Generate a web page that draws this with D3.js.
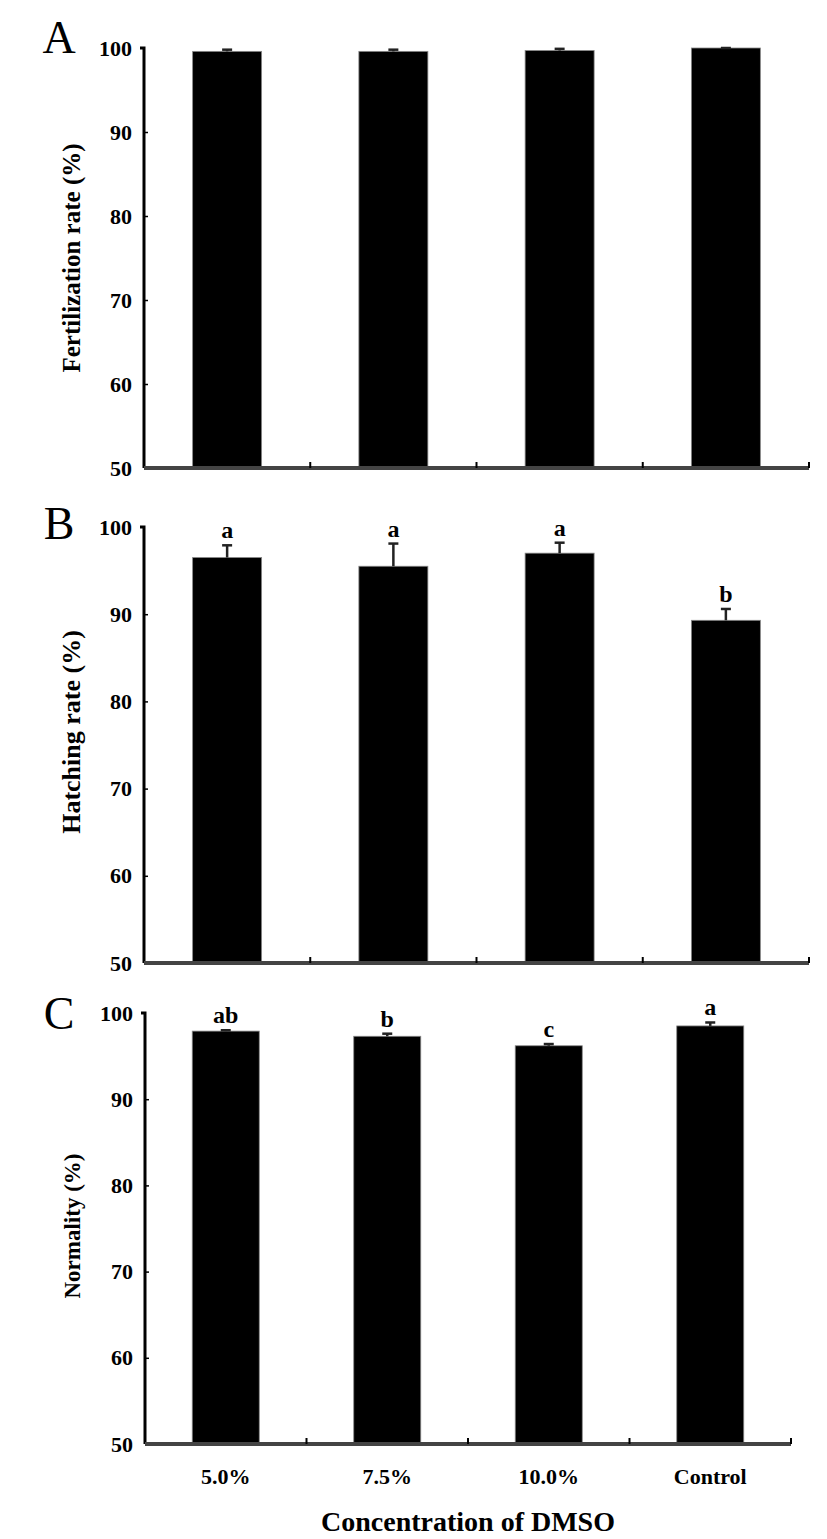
<!DOCTYPE html>
<html>
<head>
<meta charset="utf-8">
<script src="https://cdn.jsdelivr.net/npm/d3@7"></script>
<style>
  body { margin: 0; background: #fff; }
  svg text { font-family: "Liberation Serif", "DejaVu Serif", serif !important; }
</style>
</head>
<body>
<div id="wrapper"></div>
<script>
// categories and values
const categories = ["5.0%", "7.5%", "10.0%", "Control"];
const yTicks = [50, 60, 70, 80, 90, 100];

const fertilization = [99.6, 99.6, 99.7, 100];
const fertilizationErr = [0.2, 0.2, 0.2, 0];

const hatching = [96.5, 95.5, 97.0, 89.3];
const hatchingErr = [1.4, 2.6, 1.2, 1.3];
const hatchingLetters = ["a", "a", "a", "b"];

const normality = [97.9, 97.3, 96.2, 98.5];
const normalityErr = [0.1, 0.3, 0.2, 0.4];
const normalityLetters = ["ab", "b", "c", "a"];

const panels = [
  { tag: "A", title: "Fertilization rate (%)", values: fertilization, errs: fertilizationErr, letters: null,
    left: 144, right: 809, top: 48, bottom: 468, tagY: 53, titleY: 258, titleSize: 25 },
  { tag: "B", title: "Hatching rate (%)", values: hatching, errs: hatchingErr, letters: hatchingLetters,
    left: 144, right: 809, top: 527, bottom: 963, tagY: 539, titleY: 732, titleSize: 26 },
  { tag: "C", title: "Normality (%)", values: normality, errs: normalityErr, letters: normalityLetters,
    left: 145, right: 791, top: 1013, bottom: 1444, tagY: 1029, titleY: 1226, titleSize: 23 },
];

const width = 827;
const height = 1539;
const serif = "Liberation Serif";

const svg = d3.select("#wrapper").append("svg")
  .attr("width", width)
  .attr("height", height);

panels.forEach((p, pi) => {
  const g = svg.append("g");

  const xScale = d3.scaleBand()
    .domain(categories)
    .range([p.left, p.right])
    .padding(0);

  const yScale = d3.scaleLinear()
    .domain([50, 100])
    .range([p.bottom, p.top]);

  const barW = xScale.bandwidth() * 0.415;
  const mid = c => xScale(c) + xScale.bandwidth() / 2;

  // bars
  g.selectAll("rect.bar")
    .data(p.values)
    .join("rect")
    .attr("class", "bar")
    .attr("x", (d, i) => mid(categories[i]) - barW / 2)
    .attr("width", barW)
    .attr("y", d => yScale(d))
    .attr("height", d => yScale(50) - yScale(d))
    .attr("fill", "#000")
    .attr("stroke", "#888")
    .attr("stroke-width", 0.8);

  // error bars (upper half only)
  const eb = g.selectAll("g.err")
    .data(p.values)
    .join("g")
    .attr("class", "err")
    .attr("transform", (d, i) => `translate(${mid(categories[i])},0)`);
  eb.append("line")
    .attr("y1", d => yScale(d))
    .attr("y2", (d, i) => yScale(d + p.errs[i]))
    .attr("stroke", "#222")
    .attr("stroke-width", 2.5);
  eb.append("line")
    .attr("x1", -5).attr("x2", 5)
    .attr("y1", (d, i) => yScale(d + p.errs[i]))
    .attr("y2", (d, i) => yScale(d + p.errs[i]))
    .attr("stroke", "#222")
    .attr("stroke-width", 2.5);

  // significance letters
  if (p.letters) {
    g.selectAll("text.sig")
      .data(p.values)
      .join("text")
      .attr("class", "sig")
      .attr("x", (d, i) => mid(categories[i]))
      .attr("y", (d, i) => yScale(d + p.errs[i]) - 7)
      .attr("text-anchor", "middle")
      .attr("font-family", serif)
      .attr("font-size", 24)
      .attr("font-weight", "bold")
      .text((d, i) => p.letters[i]);
  }

  // y axis
  const yAxis = g.append("g")
    .attr("transform", `translate(${p.left},0)`)
    .call(d3.axisLeft(yScale).tickValues(yTicks).tickSize(-4).tickPadding(12));
  yAxis.attr("font-family", serif);
  yAxis.select(".domain").attr("stroke-width", 3).attr("d", `M-4,${p.top}H0V${p.bottom}`);
  yAxis.selectAll(".tick line").attr("stroke-width", 1.5);
  yAxis.selectAll(".tick text")
    .attr("font-size", 22)
    .attr("font-weight", "bold")
    .attr("fill", "#000");
  yAxis.selectAll(".tick").filter(d => d === 100).select("line").attr("x2", 0);

  // x axis: ticks sit on band boundaries
  const bounds = categories.map(c => xScale(c) + xScale.bandwidth());
  const xAxis = g.append("g");
  xAxis.append("line")
    .attr("x1", p.left).attr("x2", p.right)
    .attr("y1", p.bottom).attr("y2", p.bottom)
    .attr("stroke", "#444")
    .attr("stroke-width", 4);
  xAxis.selectAll("line.xt")
    .data(bounds)
    .join("line")
    .attr("class", "xt")
    .attr("x1", d => d).attr("x2", d => d)
    .attr("y1", p.bottom).attr("y2", p.bottom - 6)
    .attr("stroke", "#000")
    .attr("stroke-width", 2);

  // category labels only on the last panel
  if (pi === panels.length - 1) {
    xAxis.selectAll("text.cat")
      .data(categories)
      .join("text")
      .attr("class", "cat")
      .attr("x", d => mid(d))
      .attr("y", p.bottom + 40)
      .attr("text-anchor", "middle")
      .attr("font-family", serif)
      .attr("font-size", 22)
      .attr("font-weight", "bold")
      .text(d => d);

    svg.append("text")
      .attr("x", (p.left + p.right) / 2)
      .attr("y", p.bottom + 87)
      .attr("text-anchor", "middle")
      .attr("font-family", serif)
      .attr("font-size", 28)
      .attr("font-weight", "bold")
      .text("Concentration of DMSO");
  }

  // y axis title
  svg.append("text")
    .attr("transform", `translate(80,${p.titleY}) rotate(-90)`)
    .attr("text-anchor", "middle")
    .attr("font-family", serif)
    .attr("font-size", p.titleSize)
    .attr("font-weight", "bold")
    .text(p.title);

  // panel letter
  svg.append("text")
    .attr("x", 59)
    .attr("y", p.tagY)
    .attr("text-anchor", "middle")
    .attr("font-family", serif)
    .attr("font-size", 46)
    .text(p.tag);
});
</script>
</body>
</html>
